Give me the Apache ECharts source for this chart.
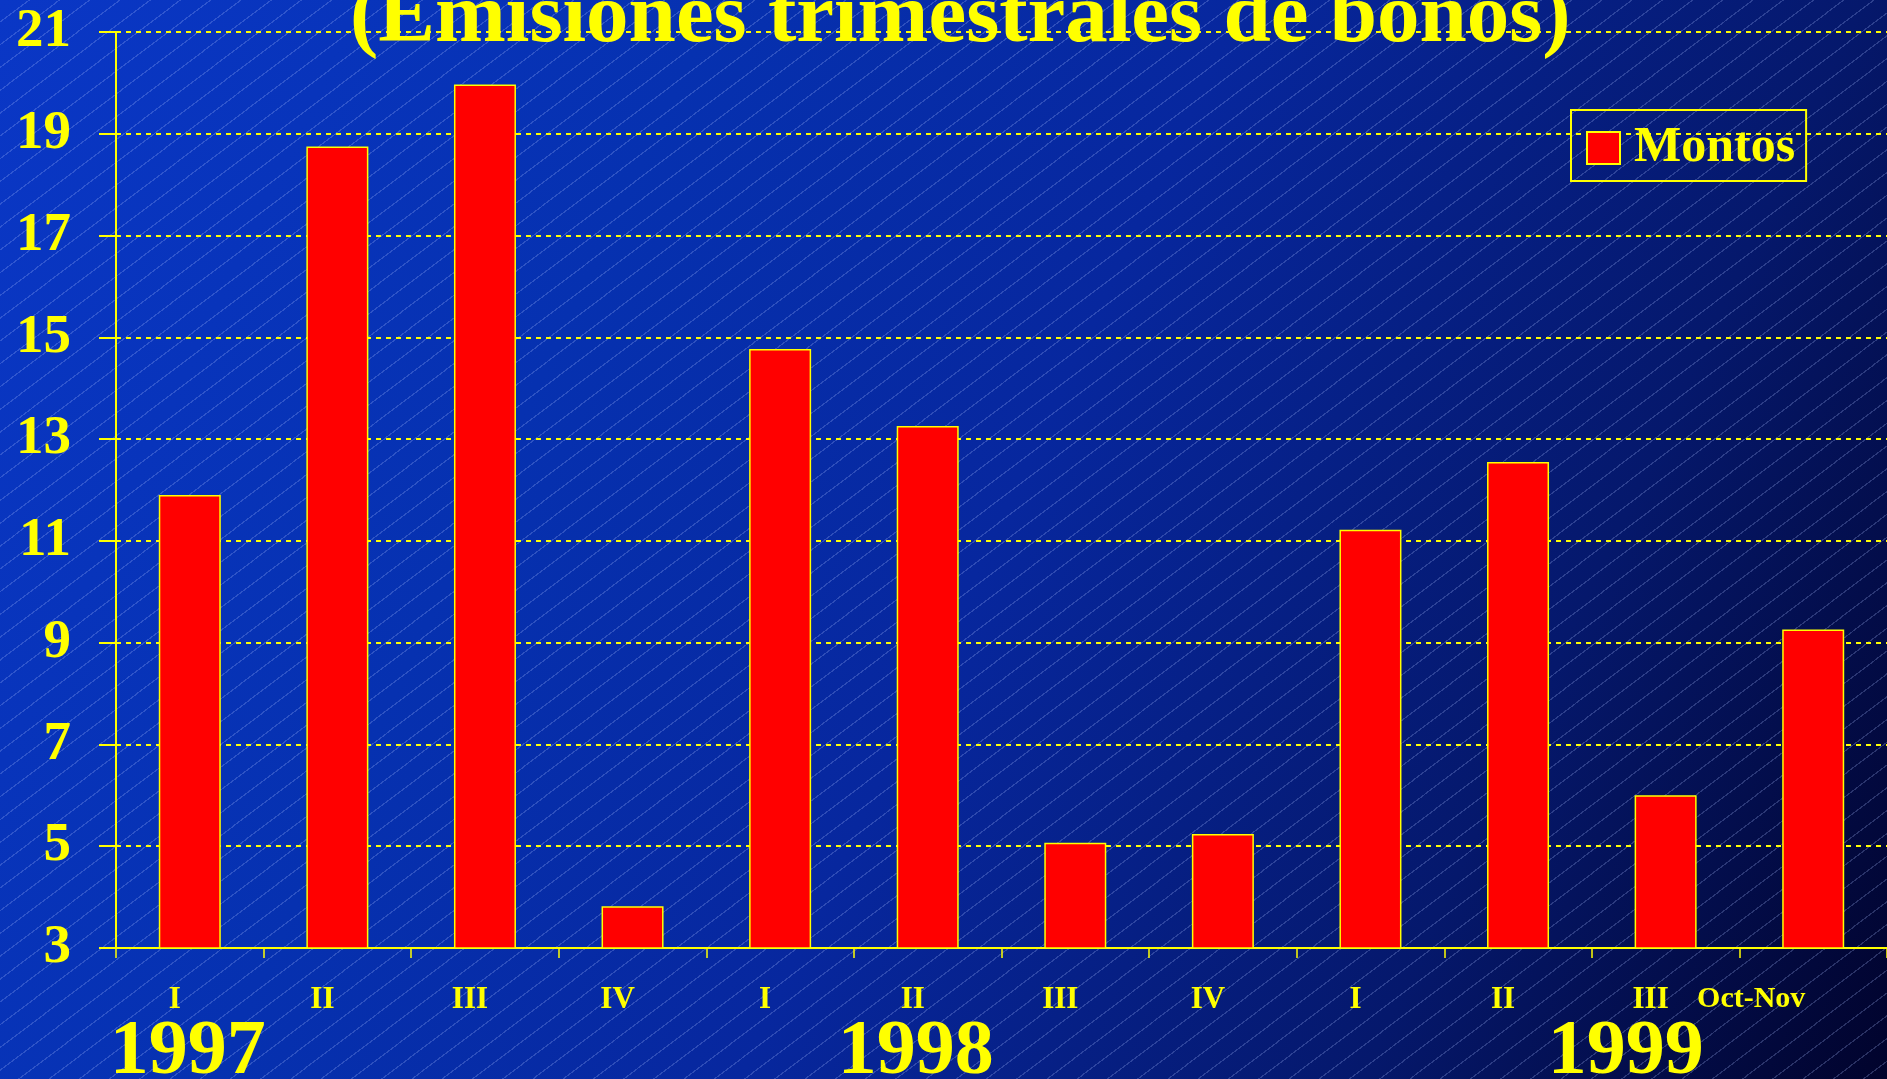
<!DOCTYPE html>
<html>
<head>
<meta charset="utf-8">
<script src="https://cdn.jsdelivr.net/npm/echarts@6/dist/echarts.min.js"></script>
<style>
html,body{margin:0;padding:0;width:1887px;height:1079px;overflow:hidden;}
#bg{position:absolute;left:0;top:0;width:1887px;height:1079px;
background:
 repeating-linear-gradient(143deg, rgba(0,0,0,0) 0px, rgba(0,0,0,0) 17px, rgba(170,190,255,0.24) 17px, rgba(170,190,255,0.24) 18.2px),
 linear-gradient(115deg, #0a37c6 0%, #0631b0 30%, #07279e 52%, #05186c 78%, #01032c 100%);}
#chart{position:absolute;left:0;top:0;width:1887px;height:1079px;}
</style>
</head>
<body>
<div id="bg"></div>
<div id="chart"></div>
<script>
const titleText = '(Emisiones trimestrales de bonos)';
const quarters = ['I','II','III','IV','I','II','III','IV','I','II','III','Oct-Nov'];
const yearTickLabels = ['1997','','','','','1998','','','','','1999',''];
const montos = [11.9, 18.75, 19.97, 3.82, 14.77, 13.26, 5.07, 5.24, 11.22, 12.55, 6.0, 9.26];
const seriesName = 'Montos';
const yMin = 3, yMax = 21, yStep = 2;

const YELLOW = '#ffff00';
const FONT = '"Liberation Serif", "Times New Roman", serif';
const catKeys = quarters.map((q, i) => i + ':' + q);

const yearRich = (padRight) => ({
  color: YELLOW, fontFamily: FONT, fontWeight: 'bold', fontSize: 78, padding: [0, padRight, 0, 0],
  textShadowColor: '#000', textShadowOffsetX: 3, textShadowOffsetY: 3, textShadowBlur: 0
});

const chart = echarts.init(document.getElementById('chart'), null, {renderer: 'canvas'});
chart.setOption({
  backgroundColor: 'transparent',
  animation: false,
  title: {
    text: titleText,
    left: 350, top: -23, padding: 0,
    textStyle: {
      color: YELLOW, fontFamily: FONT, fontWeight: 'bold', fontSize: 85, lineHeight: 85,
      textShadowColor: '#000', textShadowOffsetX: 4, textShadowOffsetY: 4, textShadowBlur: 0
    }
  },
  legend: {
    data: [seriesName],
    left: 1571, top: 110,
    padding: [13, 11, 8, 15],
    borderColor: YELLOW, borderWidth: 2,
    icon: 'rect', itemWidth: 33, itemHeight: 32,
    itemStyle: {color: '#ff0000', borderColor: YELLOW, borderWidth: 2},
    textStyle: {color: YELLOW, fontFamily: FONT, fontWeight: 'bold', fontSize: 50, padding: [0, 0, 0, 9]}
  },
  grid: {left: 116, right: 0, top: 32, bottom: 131, containLabel: false, outerBoundsMode: 'none'},
  xAxis: [{
    type: 'category',
    data: catKeys,
    position: 'bottom',
    axisLine: {show: true, lineStyle: {color: YELLOW, width: 2}},
    axisTick: {show: true, alignWithLabel: false, length: 10, lineStyle: {color: YELLOW, width: 1.5}},
    axisLabel: {
      interval: 0, margin: 36, color: YELLOW, fontFamily: FONT, fontWeight: 'bold', fontSize: 31,
      padding: [0, 30, 0, 0], hideOverlap: false,
      formatter: (v) => {
        const q = v.split(':')[1];
        return q === 'Oct-Nov' ? '{o|' + q + '}' : q;
      },
      rich: {o: {color: YELLOW, fontFamily: FONT, fontWeight: 'bold', fontSize: 30, padding: [0, 94, 0, 0]}}
    },
    splitLine: {show: false}
  }, {
    type: 'category',
    data: catKeys,
    position: 'bottom',
    offset: 0,
    axisLine: {show: false}, axisTick: {show: false}, splitLine: {show: false},
    axisLabel: {
      interval: 0, margin: 66, color: YELLOW, fontFamily: FONT, fontWeight: 'bold', fontSize: 78,
      hideOverlap: false,
      formatter: (v, idx) => {
        const y = yearTickLabels[idx];
        return y ? '{y' + idx + '|' + y + '}' : '';
      },
      rich: {y0: yearRich(4), y5: yearRich(24), y10: yearRich(80)}
    }
  }],
  yAxis: {
    type: 'value', min: yMin, max: yMax, interval: yStep,
    axisLine: {show: true, lineStyle: {color: YELLOW, width: 2}},
    axisTick: {show: true, length: 17, lineStyle: {color: YELLOW, width: 2}},
    axisLabel: {color: YELLOW, fontFamily: FONT, fontWeight: 'bold', fontSize: 55, margin: 45},
    splitLine: {show: true, lineStyle: {color: YELLOW, width: 2, type: [5, 5]}}
  },
  series: [{
    name: seriesName,
    type: 'bar',
    xAxisIndex: 0,
    data: montos,
    barWidth: 62,
    itemStyle: {color: '#ff0000', borderColor: YELLOW, borderWidth: 1.5},
    z: 3
  }]
});
</script>
</body>
</html>
